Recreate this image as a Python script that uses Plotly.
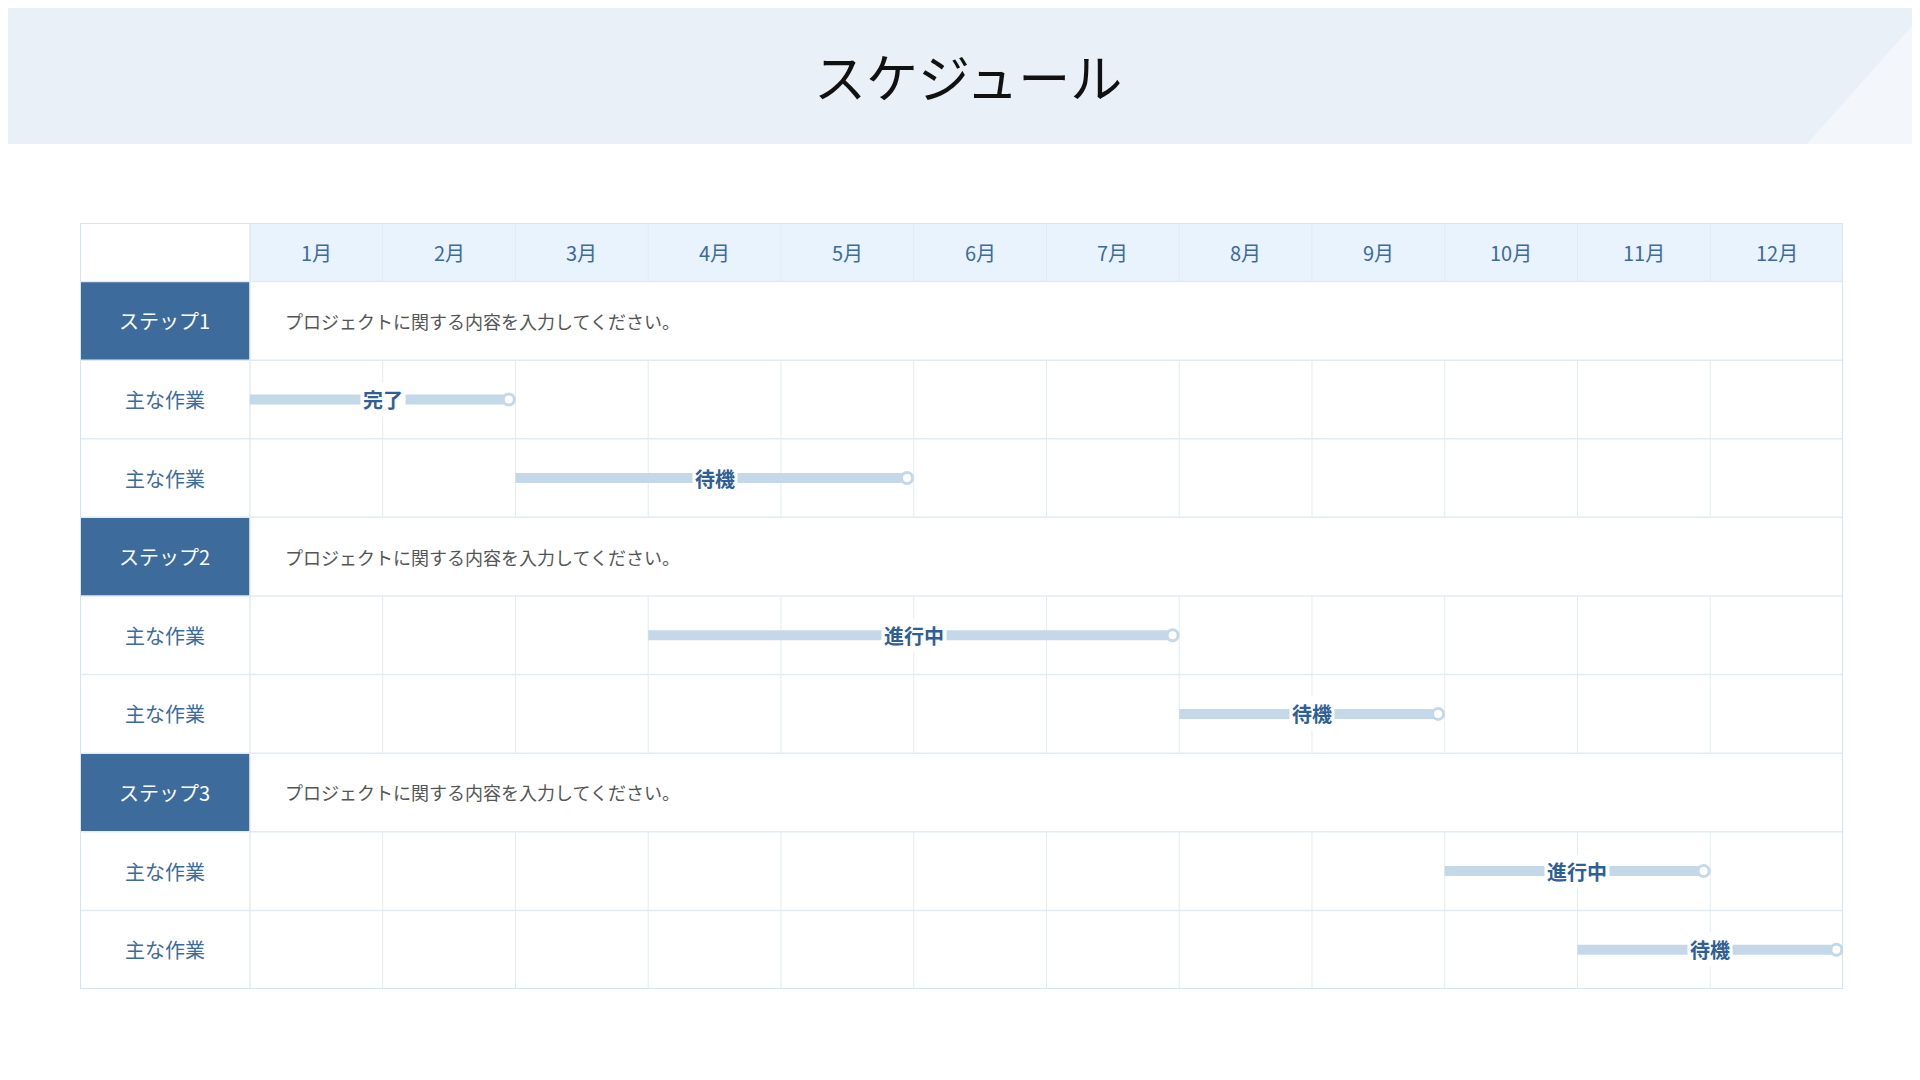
import plotly.graph_objects as go

months = ["1月", "2月", "3月", "4月", "5月", "6月", "7月", "8月", "9月", "10月", "11月", "12月"]
steps = ["ステップ1", "ステップ2", "ステップ3"]
step_desc = ["プロジェクトに関する内容を入力してください。"] * 3
task_label = "主な作業"
# two tasks per step: start month index, end month index, status
task_start = [0, 2, 3, 7, 9, 10]
task_end = [2, 5, 7, 9, 11, 12]
task_status = ["完了", "待機", "進行中", "待機", "進行中", "待機"]

FONT = "Noto Sans CJK JP"
BLUE = "#3d6b9b"
TXT_BLUE = "#2f5f95"
GRID = "#e2ebf4"
BAR = "#c5d8ea"
LABEL_W = 1.28
HEAD_H = 0.745
n_rows = len(steps) * 3

fig = go.Figure()
shapes = []
annotations = []

# page header band
shapes.append(dict(type="rect", xref="paper", yref="paper", x0=-0.1, x1=1.1, y0=1 - 136 / 1080, y1=1.1,
                   fillcolor="#eaf0f7", line_width=0, layer="below"))
shapes.append(dict(type="path", xref="paper", yref="paper",
                   path="M 0.937 %f L 1.0 %f L 1.0 1.0 Z" % (1 - 136 / 1080, 1 - 136 / 1080),
                   fillcolor="#f3f7fb", line_width=0, layer="below"))
annotations.append(dict(text="スケジュール", xref="paper", yref="paper", x=0.5, y=1 - 28 / 1080,
                        showarrow=False, font=dict(size=52, color="#111111", family=FONT)))

# header row
shapes.append(dict(type="rect", x0=0, x1=12, y0=-HEAD_H, y1=0, fillcolor="#e8f3fd", line_width=0, layer="below"))
for i, m in enumerate(months):
    annotations.append(dict(text=m, x=i + 0.5, y=-HEAD_H / 2, showarrow=False,
                            font=dict(size=20, color=BLUE, family=FONT)))

# rows
task_i = 0
for s, name in enumerate(steps):
    r = s * 3
    shapes.append(dict(type="rect", x0=-LABEL_W, x1=0, y0=r, y1=r + 1, fillcolor=BLUE, line_width=0, layer="below"))
    annotations.append(dict(text=name, x=-LABEL_W / 2, y=r + 0.5, showarrow=False,
                            font=dict(size=20, color="white", family=FONT)))
    annotations.append(dict(text=step_desc[s], x=0.25, y=r + 0.5, xanchor="left", showarrow=False,
                            font=dict(size=18, color="#555555", family=FONT)))
    for k in (1, 2):
        rr = r + k
        annotations.append(dict(text=task_label, x=-LABEL_W / 2, y=rr + 0.5, showarrow=False,
                                font=dict(size=20, color=BLUE, family=FONT)))
        for c in range(1, 12):
            shapes.append(dict(type="line", x0=c, x1=c, y0=rr, y1=rr + 1, line=dict(color=GRID, width=1), layer="below"))
        x0, x1 = task_start[task_i], task_end[task_i] - 0.05
        fig.add_trace(go.Scatter(x=[x0, x1], y=[rr + 0.5, rr + 0.5], mode="lines",
                                 line=dict(color=BAR, width=10), hoverinfo="skip"))
        fig.add_trace(go.Scatter(x=[x1], y=[rr + 0.5], mode="markers",
                                 marker=dict(size=11, color="white", line=dict(color=BAR, width=3)), hoverinfo="skip"))
        annotations.append(dict(text="<b>%s</b>" % task_status[task_i], x=(x0 + task_end[task_i]) / 2, y=rr + 0.5,
                                showarrow=False, bgcolor="white", borderpad=2,
                                font=dict(size=20, color=TXT_BLUE, family=FONT)))
        task_i += 1

# header vertical lines
for c in range(0, 12):
    shapes.append(dict(type="line", x0=c, x1=c, y0=-HEAD_H, y1=0, line=dict(color=GRID, width=1), layer="below"))
# horizontal lines
for rr in range(0, n_rows):
    shapes.append(dict(type="line", x0=-LABEL_W, x1=12, y0=rr, y1=rr, line=dict(color=GRID, width=1.5), layer="below"))
# label column edge and outer border
shapes.append(dict(type="line", x0=0, x1=0, y0=-HEAD_H, y1=n_rows, line=dict(color=GRID, width=1.5), layer="below"))
shapes.append(dict(type="rect", x0=-LABEL_W, x1=12, y0=-HEAD_H, y1=n_rows, line=dict(color="#d6e4f2", width=2), layer="below"))

fig.update_layout(
    width=1920, height=1080, showlegend=False,
    paper_bgcolor="white", plot_bgcolor="white",
    margin=dict(l=0, r=0, t=0, b=0),
    shapes=shapes, annotations=annotations,
    xaxis=dict(range=[-LABEL_W, 12], domain=[72 / 1920, 1835 / 1920], visible=False, fixedrange=True),
    yaxis=dict(range=[n_rows, -HEAD_H], domain=[1 - 981 / 1080, 1 - 215 / 1080], visible=False, fixedrange=True),
)

fig.write_html("out.html")
